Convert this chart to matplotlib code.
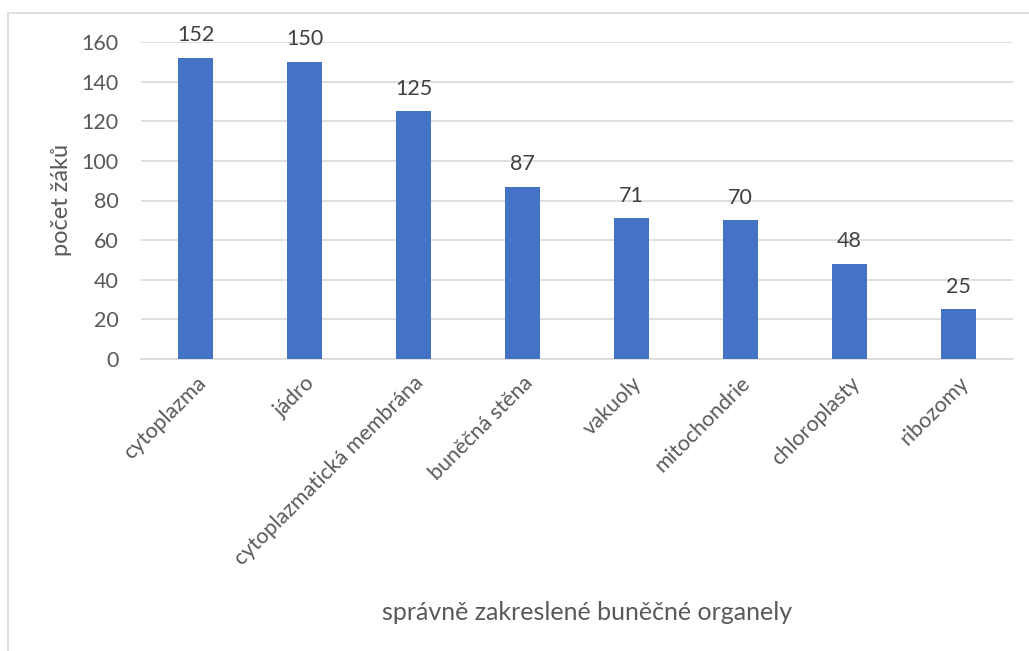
import matplotlib.pyplot as plt
from matplotlib.patches import Rectangle

plt.rcParams['font.family'] = ['Lato', 'DejaVu Sans']

# data
organely = ["cytoplazma", "jádro", "cytoplazmatická membrána", "buněčná stěna",
            "vakuoly", "mitochondrie", "chloroplasty", "ribozomy"]
pocty = [152, 150, 125, 87, 71, 70, 48, 25]
yticks = [0, 20, 40, 60, 80, 100, 120, 140, 160]

TEXT = '#595959'
GRID = '#d9d9d9'
BAR = '#4472c4'

fig = plt.figure(figsize=(10.29, 6.51), dpi=100)
fig.patch.set_facecolor('white')

# outer chart frame (right/bottom edges fall outside the image)
fig.patches.append(Rectangle((8 / 1029, -0.1), 1.2, 1 - 13 / 651 + 0.1,
                             transform=fig.transFigure, fill=False,
                             edgecolor=GRID, linewidth=1.2))

ax = fig.add_axes([141 / 1029, 1 - 359 / 651, 872 / 1029, 317 / 651])
x = range(len(organely))
bars = ax.bar(x, pocty, width=0.32, color=BAR, zorder=3)

for b, v in zip(bars, pocty):
    ax.annotate(str(v), (b.get_x() + b.get_width() / 2, v), xytext=(0, 9),
                textcoords='offset points', ha='center', va='bottom',
                fontsize=15.5, color='#404040', annotation_clip=False)

ax.set_xlim(-0.5, len(organely) - 0.5)
ax.set_ylim(0, 160)
ax.set_yticks(yticks)
ax.yaxis.grid(True, color=GRID, linewidth=1.2, zorder=0)
for s in ['top', 'right', 'left']:
    ax.spines[s].set_visible(False)
ax.spines['bottom'].set_color(GRID)
ax.spines['bottom'].set_linewidth(1.2)
ax.tick_params(axis='both', length=0, colors=TEXT, labelsize=15.5)
ax.tick_params(axis='y', pad=16)
ax.tick_params(axis='x', pad=10)

ax.set_xticks(list(x))
ax.set_xticklabels(organely, rotation=45, ha='right', va='top', rotation_mode='anchor')

fig.text(62 / 1029, 1 - 200 / 651, "počet žáků", fontsize=17, color=TEXT,
         rotation=90, ha='center', va='center')
fig.text(587 / 1029, 1 - 612 / 651, "správně zakreslené buněčné organely",
         fontsize=18, color=TEXT, ha='center', va='center')

fig.savefig('out.png', dpi=100)
